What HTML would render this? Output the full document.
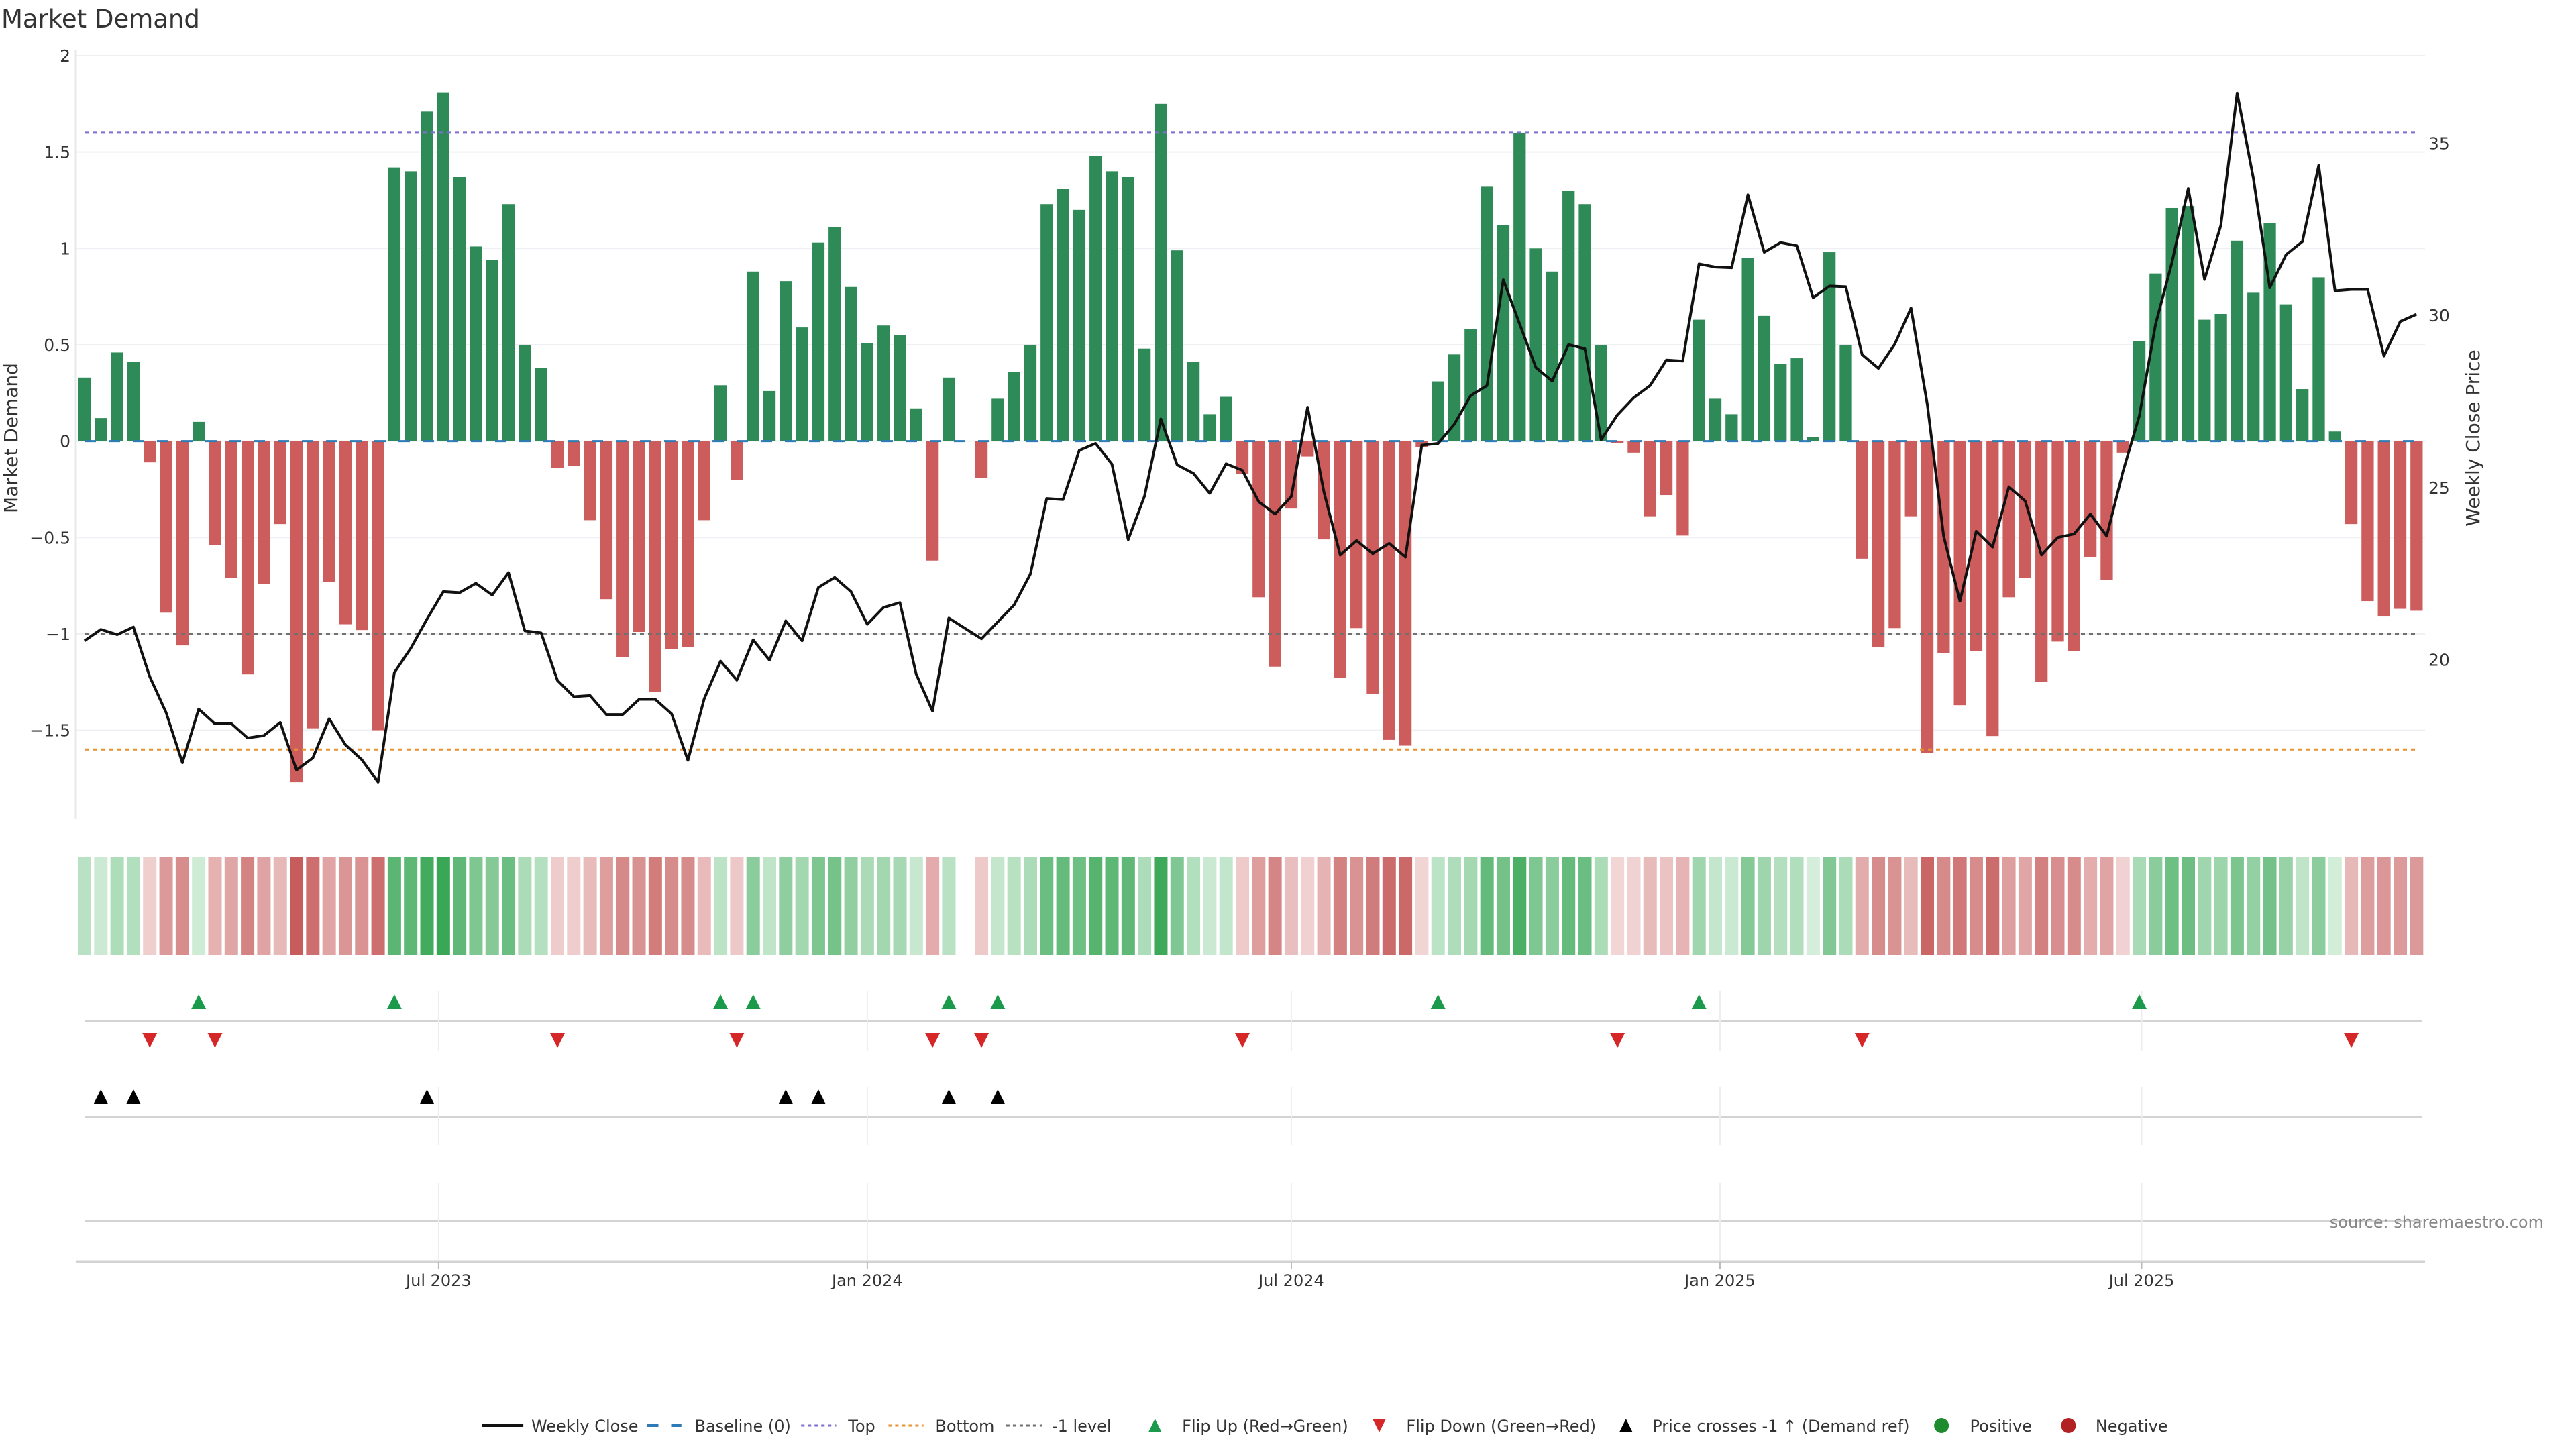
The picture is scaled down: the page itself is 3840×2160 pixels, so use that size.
<!DOCTYPE html>
<html><head><meta charset="utf-8"><title>Market Demand</title>
<style>
html,body{margin:0;padding:0;background:#fff;}
svg{display:block;font-family:"DejaVu Sans","Liberation Sans",sans-serif;}
</style></head>
<body>
<svg id="chart" width="3840" height="2160" viewBox="0 0 3840 2160" xmlns="http://www.w3.org/2000/svg">
<rect width="3840" height="2160" fill="#fff"/>
<text x="2" y="41" font-size="37" fill="#333">Market Demand</text>
<g id="grid"></g><g id="main"></g><g id="heat"></g><g id="marks"></g><g id="axes"></g><g id="legend"></g>
<text transform="translate(26,653) rotate(-90)" text-anchor="middle" font-size="28" fill="#333">Market Demand</text>
<text transform="translate(3696,653) rotate(-90)" text-anchor="middle" font-size="28" fill="#333">Weekly Close Price</text>
<text x="3830" y="1846" text-anchor="end" font-size="24" fill="#888" transform="translate(-38,-16)">source: sharemaestro.com</text>
</svg>
<script>
const demand=[0.33,0.12,0.46,0.41,-0.11,-0.89,-1.06,0.10,-0.54,-0.71,-1.21,-0.74,-0.43,-1.77,-1.49,-0.73,-0.95,-0.98,-1.50,1.42,1.40,1.71,1.81,1.37,1.01,0.94,1.23,0.50,0.38,-0.14,-0.13,-0.41,-0.82,-1.12,-0.99,-1.30,-1.08,
-1.07,-0.41,0.29,-0.20,0.88,0.26,0.83,0.59,1.03,1.11,0.80,0.51,0.60,0.55,0.17,-0.62,0.33,0,-0.19,0.22,0.36,0.50,1.23,1.31,1.20,1.48,1.40,1.37,0.48,1.75,0.99,0.41,0.14,0.23,-0.17,
-0.81,-1.17,-0.35,-0.08,-0.51,-1.23,-0.97,-1.31,-1.55,-1.58,-0.03,0.31,0.45,0.58,1.32,1.12,1.60,1.00,0.88,1.30,1.23,0.50,-0.01,-0.06,-0.39,-0.28,-0.49,0.63,0.22,0.14,0.95,0.65,0.40,0.43,0.02,
0.98,0.50,-0.61,-1.07,-0.97,-0.39,-1.62,-1.10,-1.37,-1.09,-1.53,-0.81,-0.71,-1.25,-1.04,-1.09,-0.60,-0.72,-0.06,0.52,0.87,1.21,1.22,0.63,0.66,1.04,0.77,1.13,0.71,0.27,0.85,0.05,-0.43,-0.83,-0.91,-0.87,-0.88];
const price=[20.55,20.88,20.73,20.95,19.51,18.47,17.01,18.57,18.14,18.15,17.73,17.80,18.18,16.80,17.15,18.29,17.53,17.10,16.45,19.63,20.33,21.18,21.98,21.95,22.22,21.88,22.53,20.84,20.78,19.40,18.93,18.96,18.41,18.41,18.85,18.85,18.43,
17.08,18.87,19.96,19.41,20.58,19.99,21.13,20.55,22.10,22.39,21.98,21.03,21.52,21.66,19.58,18.51,21.21,20.91,20.61,21.10,21.59,22.49,24.68,24.65,26.08,26.28,25.68,23.49,24.75,26.99,25.66,25.41,24.83,25.69,25.50,
24.59,24.23,24.74,27.33,24.87,23.04,23.46,23.08,23.38,22.98,26.23,26.28,26.84,27.67,27.96,31.03,29.75,28.48,28.09,29.15,29.03,26.39,27.11,27.61,27.96,28.70,28.67,31.49,31.40,31.38,33.50,31.83,32.11,32.02,30.51,
30.85,30.83,28.86,28.46,29.16,30.21,27.41,23.59,21.70,23.73,23.27,25.02,24.61,23.04,23.55,23.65,24.23,23.59,25.47,27.08,29.75,31.53,33.68,31.04,32.61,36.45,33.96,30.80,31.76,32.14,34.35,30.71,30.75,30.75,28.82,29.82,30.03];
const crossIdx=[1,3,21,43,45,53,56];
const startDate="2023-01-30";
const tickDates=["2023-07-01","2024-01-01","2024-07-01","2025-01-01","2025-07-01"];
const tickLabels=["Jul 2023","Jan 2024","Jul 2024","Jan 2025","Jul 2025"];
const yTicks=[2,1.5,1,0.5,0,-0.5,-1,-1.5];
const y2Ticks=[35,30,25,20];
const levels=[1.6,-1.6,-1];

const NS="http://www.w3.org/2000/svg";
const X0=126,DX=24.31,LEFT=113,RIGHT=3615;
const xs=i=>X0+i*DX;
const ys=v=>657.6-v*287.3;
const yp=p=>470-(p-30)*51.35;
const dateIdx=d=>(new Date(d)-new Date(startDate))/(7*864e5);
function mk(tag,attrs,parent){const e=document.createElementNS(NS,tag);for(const k in attrs)e.setAttribute(k,attrs[k]);parent.appendChild(e);return e;}
const G=id=>document.getElementById(id);
const grid=G('grid'),main=G('main'),heat=G('heat'),marks=G('marks'),axes=G('axes'),legend=G('legend');
const fmt=v=>(v<0?"\u2212":"")+Math.abs(v);

yTicks.forEach(v=>{
 const l=mk('line',{x1:LEFT,x2:RIGHT,y1:ys(v),y2:ys(v),stroke:'#eef0f3','stroke-width':2},grid);
 
 
 const t=mk('text',{x:105,y:ys(v)+9,'text-anchor':'end','font-size':25,fill:'#333'},axes);
 t.textContent=fmt(v);
 
 
});
y2Ticks.forEach(p=>{
 const t=mk('text',{x:3620,y:yp(p)+9,'font-size':25,fill:'#333'},axes);
 t.textContent=p;
 
 
});
const sp=mk('line',{x1:LEFT,x2:LEFT,y1:75,y2:1221,stroke:'#e6e8ec','stroke-width':3},axes);



demand.forEach((v,i)=>{
 if(v===0)return;
 const b=mk('rect',{x:xs(i)-9.15,width:18.3,y:Math.min(ys(v),ys(0)),height:Math.abs(ys(v)-ys(0)),fill:v>0?'#2e8b57':'#cd5c5c'},main);
 
 
});
const bl=mk('line',{x1:xs(0),x2:xs(demand.length-1),y1:ys(0),y2:ys(0),stroke:'#2f7bb5','stroke-width':3,'stroke-dasharray':'17 19'},main);


const lvlColors=['#7b6fd0','#e8912f','#707070'];
const lvlNames=['top-level-line','bottom-level-line','minus-one-level-line'];
levels.forEach((v,k)=>{
 const l=mk('line',{x1:xs(0),x2:xs(demand.length-1),y1:ys(v),y2:ys(v),stroke:lvlColors[k],'stroke-width':3,'stroke-dasharray':'6 6'},main);
 
 
});
const pl=mk('polyline',{points:price.map((p,i)=>xs(i)+','+yp(p)).join(' '),fill:'none',stroke:'#111','stroke-width':4,'stroke-linejoin':'round'},main);



function mix(a,b,t){return 'rgb('+a.map((c,j)=>Math.round(c+(b[j]-c)*t)).join(',')+')';}
demand.forEach((v,i)=>{
 if(v===0)return;
 const t=Math.min(Math.abs(v)/1.8,1);
 const c=v>0?mix([214,239,220],[58,167,87],t):mix([242,214,214],[197,90,90],t);
 const r=mk('rect',{x:xs(i)-10,width:20,y:1278,height:146,fill:c},heat);
 
 
});

[[1522,1478,1567],[1665,1620,1707],[1820,1763,1880]].forEach(([ly,a,b])=>{
 const h=mk('line',{x1:126,x2:3610,y1:ly,y2:ly,stroke:'#d3d3d3','stroke-width':3},marks);
 
 
 tickDates.forEach(d=>{
  const x=xs(dateIdx(d));
  const v=mk('line',{x1:x,x2:x,y1:a,y2:b,stroke:'#eeeeee','stroke-width':2},marks);
  
  
 });
});
function tri(x,y,up,fill,name){
 const s=11;
 const pts=up?[[x,y-s],[x-s,y+s],[x+s,y+s]]:[[x,y+s],[x-s,y-s],[x+s,y-s]];
 const p=mk('polygon',{points:pts.map(q=>q.join(',')).join(' '),fill:fill},marks);
 
 
}
let last=0;
demand.forEach((v,i)=>{
 const s=Math.sign(v);
 if(s===0)return;
 if(last<0&&s>0)tri(xs(i),1493,true,'#1a9a4a','flip-up-marker');
 if(last>0&&s<0)tri(xs(i),1551,false,'#d62728','flip-down-marker');
 last=s;
});
crossIdx.forEach(i=>tri(xs(i),1635,true,'#000','price-cross-marker'));

const xa=mk('line',{x1:114,x2:3615,y1:1881,y2:1881,stroke:'#d3d3d3','stroke-width':3},axes);


tickDates.forEach((d,k)=>{
 const x=xs(dateIdx(d));
 const tk=mk('line',{x1:x,x2:x,y1:1881,y2:1892,stroke:'#bbb','stroke-width':2},axes);
 
 
 const t=mk('text',{x:x,y:1917,'text-anchor':'middle','font-size':24,fill:'#333'},axes);
 t.textContent=tickLabels[k];
 
 
});

const LY=2125;
const LX=x=>718+(x-718)*0.986;
function ltext(x,s){const t=mk('text',{x:LX(x),y:LY+9,'font-size':24,fill:'#333'},legend);t.textContent=s;}
function lline(x1,x2,c,w,da,name){const l=mk('line',{x1:LX(x1),x2:LX(x2),y1:LY,y2:LY,stroke:c,'stroke-width':w,'stroke-dasharray':da},legend);}
lline(718,781,'#111',4,'none','legend-weekly-close');ltext(793,'Weekly Close');
lline(968,1020,'#2f7bb5',4,'17 19','legend-baseline');ltext(1040,'Baseline (0)');
lline(1201,1254,'#7b6fd0',3,'5 5','legend-top');ltext(1272,'Top');
lline(1333,1386,'#e8912f',3,'5 5','legend-bottom');ltext(1404,'Bottom');
lline(1511,1565,'#707070',3,'5 5','legend-minus-one');ltext(1580,'-1 level');
function ltri(x,up,c,name){const s=10;x=LX(x);const pts=up?[[x,LY-s],[x-s,LY+s],[x+s,LY+s]]:[[x,LY+s],[x-s,LY-s],[x+s,LY-s]];const p=mk('polygon',{points:pts.map(q=>q.join(',')).join(' '),fill:c},legend);}
ltri(1736,true,'#1a9a4a','legend-flip-up');ltext(1777,'Flip Up (Red\u2192Green)');
ltri(2075,false,'#d62728','legend-flip-down');ltext(2116,'Flip Down (Green\u2192Red)');
ltri(2448,true,'#000','legend-price-cross');ltext(2488,'Price crosses -1 \u2191 (Demand ref)');
function lcirc(x,c,name){const e=mk('circle',{cx:LX(x),cy:LY,r:11,fill:c},legend);}
lcirc(2925,'#1e8c2e','legend-positive');ltext(2968,'Positive');
lcirc(3117,'#b22222','legend-negative');ltext(3158,'Negative');
</script>
</body></html>
